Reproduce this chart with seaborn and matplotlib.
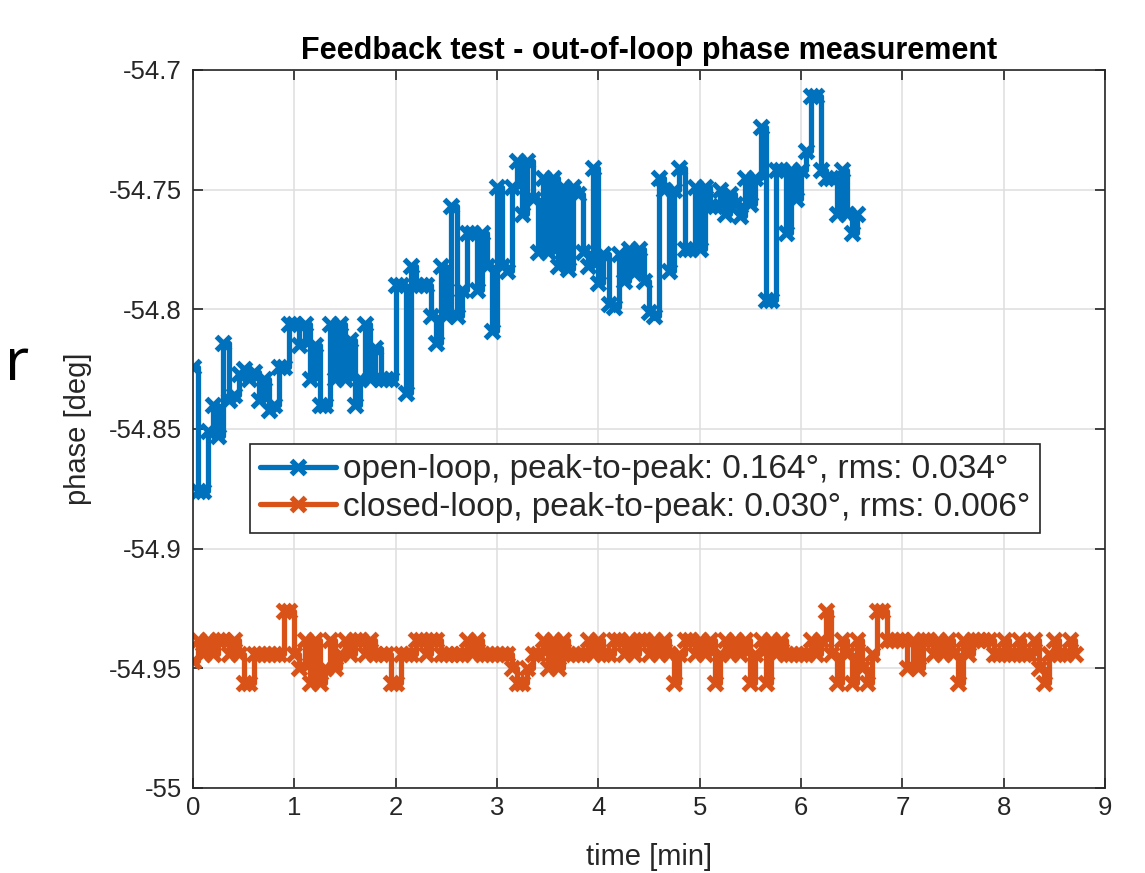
import numpy as np
import pandas as pd
import matplotlib
matplotlib.use("Agg")
import matplotlib.pyplot as plt
from matplotlib.ticker import FuncFormatter, MultipleLocator
import seaborn as sns

# ---------------- data ----------------
SAMPLE_MIN = 0.05  # sampling period in minutes

open_loop = [
    -54.824, -54.876, -54.876, -54.851, -54.840, -54.853, -54.814, -54.838, -54.836, -54.827,
    -54.825, -54.829, -54.826, -54.838, -54.829, -54.842, -54.840, -54.824, -54.824, -54.806,
    -54.806, -54.815, -54.806, -54.829, -54.815, -54.840, -54.840, -54.806, -54.829, -54.806,
    -54.829, -54.813, -54.840, -54.829, -54.806, -54.829, -54.816, -54.829, -54.829, -54.829,
    -54.790, -54.790, -54.835, -54.782, -54.790, -54.790, -54.790, -54.803, -54.814, -54.782,
    -54.803, -54.757, -54.803, -54.792, -54.768, -54.768, -54.792, -54.768, -54.782, -54.809,
    -54.749, -54.782, -54.784, -54.749, -54.738, -54.760, -54.738, -54.754, -54.776, -54.745,
    -54.776, -54.745, -54.782, -54.749, -54.783, -54.749, -54.752, -54.776, -54.782, -54.741,
    -54.789, -54.777, -54.798, -54.799, -54.777, -54.788, -54.775, -54.785, -54.775, -54.788,
    -54.801, -54.803, -54.745, -54.750, -54.784, -54.750, -54.741, -54.775, -54.775, -54.749,
    -54.775, -54.749, -54.757, -54.757, -54.750, -54.760, -54.752, -54.756, -54.761, -54.745,
    -54.756, -54.745, -54.724, -54.796, -54.796, -54.742, -54.742, -54.768, -54.742, -54.754,
    -54.742, -54.734, -54.711, -54.711, -54.742, -54.745, -54.745, -54.760, -54.742, -54.760,
    -54.768, -54.760,
]

closed_loop = [
    -54.947, -54.938, -54.944, -54.938, -54.944, -54.938, -54.938, -54.944, -54.938, -54.944,
    -54.956, -54.956, -54.944, -54.944, -54.944, -54.944, -54.944, -54.944, -54.926, -54.926,
    -54.944, -54.950, -54.938, -54.956, -54.938, -54.956, -54.950, -54.938, -54.950, -54.944,
    -54.938, -54.944, -54.938, -54.938, -54.944, -54.938, -54.944, -54.944, -54.944, -54.956,
    -54.956, -54.944, -54.944, -54.944, -54.938, -54.938, -54.944, -54.938, -54.938, -54.944,
    -54.944, -54.944, -54.944, -54.944, -54.938, -54.944, -54.938, -54.944, -54.944, -54.944,
    -54.944, -54.944, -54.944, -54.950, -54.956, -54.956, -54.950, -54.944, -54.944, -54.938,
    -54.950, -54.938, -54.950, -54.938, -54.944, -54.944, -54.944, -54.944, -54.938, -54.944,
    -54.938, -54.944, -54.944, -54.938, -54.938, -54.944, -54.938, -54.944, -54.938, -54.938,
    -54.944, -54.938, -54.944, -54.938, -54.944, -54.956, -54.944, -54.938, -54.938, -54.944,
    -54.938, -54.944, -54.938, -54.956, -54.944, -54.938, -54.944, -54.938, -54.944, -54.938,
    -54.956, -54.944, -54.938, -54.956, -54.938, -54.944, -54.938, -54.944, -54.944, -54.944,
    -54.944, -54.944, -54.938, -54.944, -54.938, -54.926, -54.944, -54.956, -54.938, -54.944,
    -54.956, -54.938, -54.950, -54.956, -54.944, -54.926, -54.926, -54.938, -54.938, -54.938,
    -54.938, -54.950, -54.938, -54.950, -54.938, -54.938, -54.944, -54.938, -54.944, -54.938,
    -54.944, -54.956, -54.938, -54.944, -54.938, -54.938, -54.938, -54.938, -54.944, -54.944,
    -54.938, -54.944, -54.944, -54.938, -54.944, -54.944, -54.938, -54.950, -54.956, -54.944,
    -54.938, -54.944, -54.944, -54.938, -54.944,
]

series_labels = [
    "open-loop, peak-to-peak: 0.164°, rms: 0.034°",
    "closed-loop, peak-to-peak: 0.030°, rms: 0.006°",
]
series_colors = ["#0072BD", "#D95319"]

x_ticks = [0, 1, 2, 3, 4, 5, 6, 7, 8, 9]
title_text = "Feedback test - out-of-loop phase measurement"
x_label = "time [min]"
y_label = "phase [deg]"

# ---------------- build frames ----------------
time_open = np.round(np.arange(len(open_loop)) * SAMPLE_MIN, 4)
time_closed = np.round(np.arange(len(closed_loop)) * SAMPLE_MIN, 4)
df_open = pd.DataFrame({"time": time_open, "phase": open_loop})
df_closed = pd.DataFrame({"time": time_closed, "phase": closed_loop})

# ---------------- style ----------------
sns.set_style("ticks")
plt.rcParams["font.family"] = ["Liberation Sans", "DejaVu Sans"]
plt.rcParams["axes.unicode_minus"] = False

AX_COLOR = "#262626"

fig = plt.figure(figsize=(11.45, 8.73), dpi=100)
ax = fig.add_axes([0.1686, 0.0974, 0.7965, 0.8225])

for df, lab, col in zip([df_open, df_closed], series_labels, series_colors):
    sns.lineplot(
        data=df, x="time", y="phase", ax=ax, color=col, label=lab,
        estimator=None, sort=False, linewidth=3.8, drawstyle="steps-post",
        marker="x", markersize=9.5, markeredgewidth=3.8,
        markeredgecolor=col, markerfacecolor=col,
    )

ax.set_xlim(0, 9)
ax.set_ylim(-55, -54.7)
ax.set_xticks(x_ticks)
ax.yaxis.set_major_locator(MultipleLocator(0.05))
ax.yaxis.set_major_formatter(FuncFormatter(lambda v, p: f"{round(v, 3):g}"))

ax.grid(True, color="#DEDEDE", linewidth=1.1)
ax.set_axisbelow(True)

for sp in ax.spines.values():
    sp.set_visible(True)
    sp.set_color(AX_COLOR)
    sp.set_linewidth(1.2)

ax.tick_params(axis="both", which="both", direction="in", length=7, width=1.2,
               colors=AX_COLOR, labelsize=18.5, top=True, right=True, pad=8)
ax.tick_params(axis="x", pad=6)
for lbl in ax.get_xticklabels() + ax.get_yticklabels():
    lbl.set_color(AX_COLOR)

ax.set_xlabel(x_label, fontsize=21, color=AX_COLOR, labelpad=16)
ax.set_ylabel(y_label, fontsize=21, color=AX_COLOR, labelpad=12)
ax.set_title(title_text, fontsize=22, fontweight="bold", color="black", pad=8)

leg = ax.legend(loc="lower left", bbox_to_anchor=(0.062, 0.355), fontsize=24,
                frameon=True, fancybox=False, edgecolor=AX_COLOR, framealpha=1,
                handlelength=2.3, handletextpad=0.2, borderpad=0.3,
                labelspacing=0.2, borderaxespad=0)
leg.get_frame().set_linewidth(1.2)

# stray character from the original screenshot crop
fig.text(0.004, 0.582, "r", fontsize=42, color="black", ha="left", va="center",
         family=["Noto Sans", "DejaVu Sans"])

fig.savefig("out.png", dpi=100)
